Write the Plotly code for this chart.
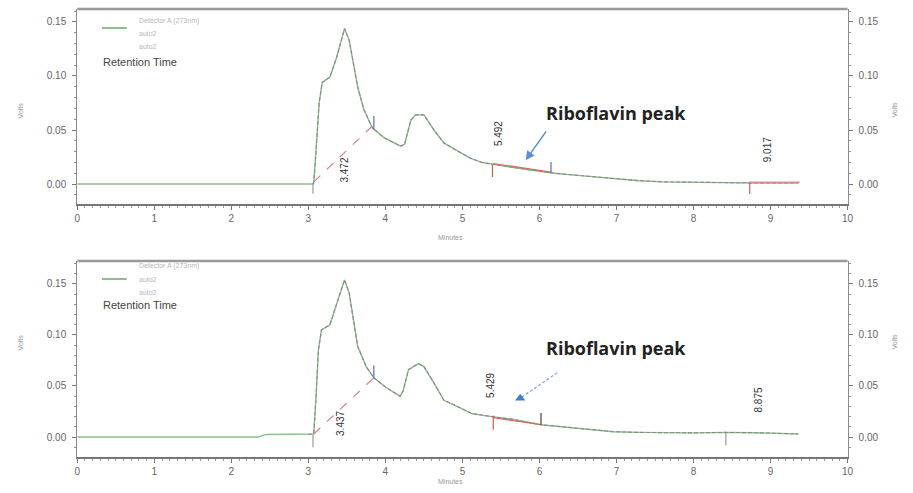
import plotly.graph_objects as go

# ---------------- data ----------------
time_top = [0.0, 1.0, 2.0, 2.5, 3.0, 3.05, 3.07, 3.10, 3.14, 3.18, 3.28, 3.37, 3.47, 3.53, 3.64, 3.72, 3.83, 3.98,
            4.20, 4.25, 4.33, 4.39, 4.50, 4.63, 4.76, 4.93, 5.10, 5.25, 5.40, 5.60, 5.89, 6.19, 6.50, 6.96,
            7.30, 7.60, 8.00, 8.40, 8.80, 9.36]
volts_top = [0.000, 0.000, 0.000, 0.000, 0.000, 0.000, 0.001, 0.030, 0.075, 0.094, 0.099, 0.118, 0.144, 0.133, 0.090,
             0.069, 0.052, 0.043, 0.035, 0.037, 0.059, 0.064, 0.064, 0.050, 0.038, 0.031, 0.024, 0.020, 0.018, 0.016,
             0.013, 0.010, 0.008, 0.005, 0.003, 0.002, 0.0015, 0.001, 0.001, 0.001]

time_bot = [0.0, 1.0, 2.0, 2.35, 2.45, 3.0, 3.05, 3.07, 3.10, 3.13, 3.17, 3.28, 3.37, 3.47, 3.53, 3.64, 3.75, 3.85,
            4.00, 4.19, 4.23, 4.30, 4.43, 4.50, 4.63, 4.76, 4.93, 5.12, 5.38, 5.68, 6.02, 6.53, 6.96, 7.30, 7.60,
            8.00, 8.40, 8.80, 9.36]
volts_bot = [0.000, 0.000, 0.000, 0.000, 0.0025, 0.0026, 0.0026, 0.003, 0.040, 0.085, 0.105, 0.110, 0.131, 0.154,
             0.141, 0.089, 0.069, 0.058, 0.049, 0.040, 0.045, 0.066, 0.072, 0.069, 0.053, 0.036, 0.030, 0.023,
             0.020, 0.017, 0.012, 0.0085, 0.0052, 0.0045, 0.004, 0.004, 0.0045, 0.0042, 0.003]

# integration baselines (x pairs, y pairs)
base_top = [([3.07, 3.85], [0.002, 0.055], "#d9808a", "dash"),
            ([5.40, 6.15], [0.019, 0.011], "#d96a5a", "solid"),
            ([8.73, 9.38], [0.0017, 0.0017], "#e08a90", "solid")]
base_bot = [([3.07, 3.85], [0.003, 0.058], "#d9808a", "dash"),
            ([5.40, 6.02], [0.019, 0.012], "#d96a5a", "solid")]

# integration markers: (x, y_low, y_high, color)
mark_top = [(3.06, -0.009, 0.001, "#9a9a9a"), (3.85, 0.050, 0.063, "#5a6ad0"),
            (5.39, 0.0065, 0.0176, "#c8604a"), (6.15, 0.0102, 0.0204, "#5a6ad0"),
            (8.73, -0.0093, 0.0012, "#d06060")]
mark_bot = [(3.06, -0.010, 0.002, "#9a9a9a"), (3.85, 0.057, 0.070, "#5a6ad0"),
            (5.40, 0.007, 0.021, "#c8604a"), (6.02, 0.012, 0.0235, "#444444"),
            (8.42, -0.008, 0.004, "#9a9a9a")]

labels_top = [("3.472", 3.47, 0.013), ("5.492", 5.46, 0.047), ("9.017", 8.97, 0.0315)]
labels_bot = [("3.437", 3.41, 0.0137), ("5.429", 5.37, 0.051), ("8.875", 8.84, 0.036)]

y_ticks = [0.00, 0.05, 0.10, 0.15]
x_ticks = list(range(0, 11))

# ---------------- figure ----------------
fig = go.Figure()

W, H = 913, 493
xdom = [75 / W, 853 / W]
dom_top = [1 - 204 / H, 1 - 9 / H]
dom_bot = [1 - 457 / H, 1 - 261 / H]
range_top = [-0.0185, 0.162]
range_bot = [-0.0196, 0.1725]


def add_trace(t, v, xa, ya):
    fig.add_trace(go.Scatter(x=t, y=v, mode="lines", xaxis=xa, yaxis=ya,
                             line=dict(color="#8cc08c", width=1.4), hoverinfo="skip", showlegend=False))
    fig.add_trace(go.Scatter(x=t[5:], y=v[5:], mode="lines", xaxis=xa, yaxis=ya,
                             line=dict(color="#8a8a8a", width=1.1, dash="4px,2px"), hoverinfo="skip",
                             showlegend=False))


add_trace(time_top, volts_top, "x", "y")
add_trace(time_bot, volts_bot, "x2", "y2")

# invisible traces so that the right-hand axes are drawn
fig.add_trace(go.Scatter(x=time_top, y=volts_top, mode="lines", xaxis="x", yaxis="y3", opacity=0,
                         hoverinfo="skip", showlegend=False))
fig.add_trace(go.Scatter(x=time_bot, y=volts_bot, mode="lines", xaxis="x2", yaxis="y4", opacity=0,
                         hoverinfo="skip", showlegend=False))

for bases, xa, ya in [(base_top, "x", "y"), (base_bot, "x2", "y2")]:
    for bx, by, col, dsh in bases:
        fig.add_trace(go.Scatter(x=bx, y=by, mode="lines", xaxis=xa, yaxis=ya,
                                 line=dict(color=col, width=1.2, dash=dsh), hoverinfo="skip", showlegend=False))

for marks, xa, ya in [(mark_top, "x", "y"), (mark_bot, "x2", "y2")]:
    for mx, lo, hi, col in marks:
        fig.add_trace(go.Scatter(x=[mx, mx], y=[lo, hi], mode="lines", xaxis=xa, yaxis=ya,
                                 line=dict(color=col, width=1.2), hoverinfo="skip", showlegend=False))

# bottom dashed arrow with triangle head
arrow_bot_tail = (6.23, 0.063)
arrow_bot_head = (5.75, 0.038)
fig.add_trace(go.Scatter(x=[arrow_bot_tail[0], arrow_bot_head[0]], y=[arrow_bot_tail[1], arrow_bot_head[1]],
                         mode="lines", xaxis="x2", yaxis="y2",
                         line=dict(color="#8aa8d8", width=1.3, dash="3px,2px"), hoverinfo="skip", showlegend=False))
fig.add_trace(go.Scatter(x=[arrow_bot_head[0]], y=[arrow_bot_head[1]], mode="markers", xaxis="x2", yaxis="y2",
                         marker=dict(symbol="triangle-up", size=9, color="#3f7fd0"), hoverinfo="skip",
                         showlegend=False))

axis_common = dict(showline=True, linecolor="#8c8c8c", linewidth=1, ticks="outside", ticklen=4,
                   tickcolor="#777", tickfont=dict(family="Liberation Sans", size=10, color="#666"),
                   showgrid=False, zeroline=False, mirror=False)

xcommon = dict(axis_common, range=[0, 10], tickvals=x_ticks, domain=xdom,
               minor=dict(dtick=0.1, ticklen=2, ticks="outside", tickcolor="#999"), linewidth=2,
               linecolor="#777")
ycommon = dict(axis_common, tickvals=y_ticks, tickformat=".2f", ticklabelstandoff=4,
               minor=dict(dtick=0.01, ticklen=2, ticks="outside", tickcolor="#999"))

fig.update_layout(
    width=W, height=H, margin=dict(l=0, r=0, t=0, b=0),
    paper_bgcolor="white", plot_bgcolor="white", showlegend=False,
    xaxis=dict(xcommon, anchor="y"),
    xaxis2=dict(xcommon, anchor="y2"),
    yaxis=dict(ycommon, domain=dom_top, range=range_top, anchor="x"),
    yaxis2=dict(ycommon, domain=dom_bot, range=range_bot, anchor="x2"),
    yaxis3=dict(ycommon, domain=dom_top, range=range_top, anchor="x", overlaying="y", side="right"),
    yaxis4=dict(ycommon, domain=dom_bot, range=range_bot, anchor="x2", overlaying="y2", side="right"),
)

# top frame border (thick gray)
for dom in (dom_top, dom_bot):
    fig.add_shape(type="line", xref="paper", yref="paper", x0=xdom[0], x1=xdom[1], y0=dom[1], y1=dom[1],
                  line=dict(color="#9a9a9a", width=2.5))

ann = []
for labs, xa, ya in [(labels_top, "x", "y"), (labels_bot, "x2", "y2")]:
    for txt, lx, ly in labs:
        ann.append(dict(text=txt, x=lx, y=ly, xref=xa, yref=ya, showarrow=False, textangle=-90,
                        font=dict(family="Liberation Sans", size=10, color="#333")))

# Riboflavin peak text
rib_pos = [(7.0, 0.0657, "x", "y"), (7.0, 0.0873, "x2", "y2")]
for rx, ry, xa, ya in rib_pos:
    ann.append(dict(text="<b>Riboflavin peak</b>", x=rx, y=ry, xref=xa, yref=ya, showarrow=False,
                    font=dict(family="Open Sans", size=18, color="#222")))

# top arrow
arrow_top_tail = (6.1, 0.050)
arrow_top_head = (5.82, 0.022)
ann.append(dict(x=arrow_top_head[0], y=arrow_top_head[1], ax=arrow_top_tail[0], ay=arrow_top_tail[1],
                xref="x", yref="y", axref="x", ayref="y", text="", showarrow=True, arrowhead=2,
                arrowsize=1.3, arrowwidth=1.4, arrowcolor="#5b8fd0"))

# legend-like tiny texts and "Retention Time"
def px(xp, yp):
    return xp / W, 1 - yp / H

for off in (0, 251):
    for txt, xp, yp in [("Detector A (273nm)", 135, 15 + off), ("auto2", 135, 28 + off), ("auto2", 135, 41 + off)]:
        x_, y_ = px(xp, yp)
        ann.append(dict(text=txt, x=x_, y=y_, xref="paper", yref="paper", xanchor="left", showarrow=False,
                        font=dict(family="Liberation Sans", size=7, color="#b8b8b8")))
    x_, y_ = px(99, 54 + off)
    ann.append(dict(text="Retention Time", x=x_, y=y_, xref="paper", yref="paper", xanchor="left",
                    showarrow=False, font=dict(family="Liberation Sans", size=11, color="#444")))
    x0, y0 = px(100, 28 + off)
    x1, _ = px(125, 28 + off)
    fig.add_shape(type="line", xref="paper", yref="paper", x0=x0, x1=x1, y0=y0, y1=y0,
                  line=dict(color="#8cbf8c", width=2))

for xp, yp in [(12, 100), (12, 352), (905, 100), (905, 352)]:
    x_, y_ = px(xp, yp)
    ann.append(dict(text="Volts", x=x_, y=y_, xref="paper", yref="paper", showarrow=False, textangle=-90,
                    font=dict(family="Liberation Sans", size=7, color="#999")))
for yp in (237, 487):
    x_, y_ = px(452, yp)
    ann.append(dict(text="Minutes", x=x_, y=y_, xref="paper", yref="paper", showarrow=False,
                    font=dict(family="Liberation Sans", size=7, color="#999")))

fig.update_layout(annotations=ann)

fig.write_html("out.html")
